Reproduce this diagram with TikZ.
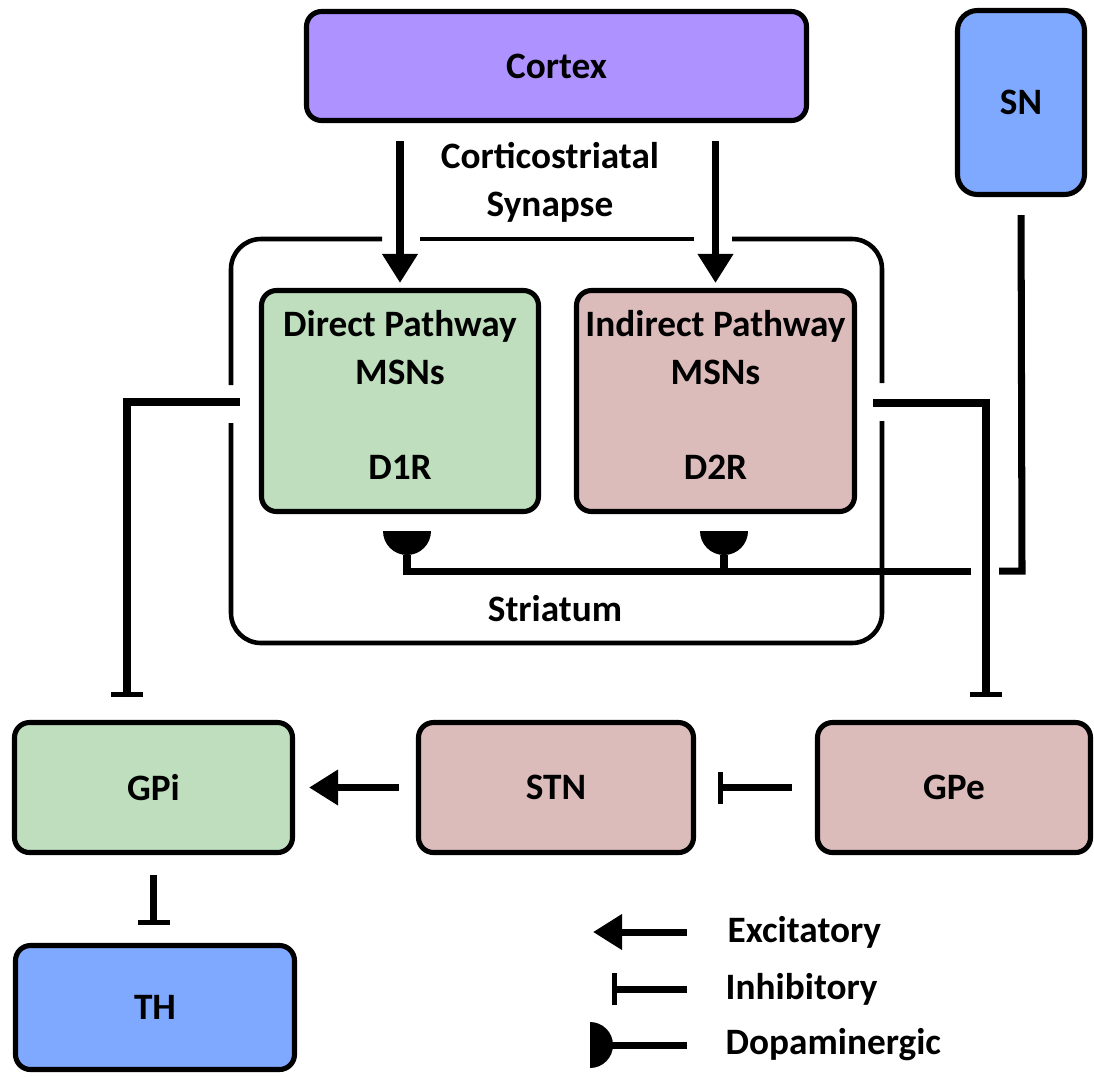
\documentclass[tikz,border=0pt]{standalone}
\usepackage{fontspec}
\setmainfont{Carlito}
\usetikzlibrary{arrows.meta}

\definecolor{cortexpurple}{HTML}{AE92FF}
\definecolor{nucleusblue}{HTML}{7FA8FF}
\definecolor{directgreen}{HTML}{BEDEBE}
\definecolor{indirectpink}{HTML}{DCBBBB}

\begin{document}
\begin{tikzpicture}[
  font=\fontsize{10.6pt}{13.6pt}\selectfont\bfseries,
  region/.style={draw=black, line width=1.45pt, rounded corners=0.15cm, inner sep=0pt, align=center},
  msnbox/.style={region, minimum height=2.21cm, text depth=0.12cm},
  wire/.style={line width=2pt},
  excite/.style={wire, -{Triangle[length=0.29cm,width=0.34cm]}},
  inhib/.style={wire, -{Bar[width=0.32cm,line width=1.5pt]}},
  strline/.style={line width=1.3pt, rounded corners=0.3cm}
]
\useasboundingbox (0,0) rectangle (10.94,-10.76);

%%%%%%%%%%%%%%%%%%%%%%%%%%%%%%%%%%%%%%%%%%%%%%%%%%%%%%%%%%%%%%%% boxes
\node[region, fill=cortexpurple, minimum width=5.0cm, minimum height=1.09cm] (cortex) at (5.565,-0.66) {Cortex};
\node[region, fill=nucleusblue, minimum width=1.27cm, minimum height=1.84cm, rounded corners=0.2cm] (sn) at (10.21,-1.025) {SN};
\node[msnbox, fill=directgreen, minimum width=2.77cm] (direct) at (4.0,-4.01) {Direct Pathway\\MSNs\\[13.6pt]D1R};
\node[msnbox, fill=indirectpink, minimum width=2.78cm] (indirect) at (7.155,-4.01) {Indirect Pathway\\MSNs\\[13.6pt]D2R};
\node[region, fill=directgreen, minimum width=2.78cm, minimum height=1.30cm] (gpi) at (1.535,-7.875) {GPi};
\node[region, fill=indirectpink, minimum width=2.75cm, minimum height=1.30cm] (stn) at (5.56,-7.875) {STN};
\node[region, fill=indirectpink, minimum width=2.73cm, minimum height=1.30cm] (gpe) at (9.54,-7.875) {GPe};
\node[region, fill=nucleusblue, minimum width=2.79cm, minimum height=1.24cm] (th) at (1.55,-10.075) {TH};

\node[align=center] (synlabel) at (5.50,-1.82) {Corticostriatal\\Synapse};
\node (strlabel) at (5.55,-6.09) {Striatum};

%striatum outline, left open where lines cross
\draw[strline] (3.82,-2.39) -- (2.31,-2.39) -- (2.31,-3.85);
\draw[strline] (2.31,-4.23) -- (2.31,-6.43) -- (8.82,-6.43) -- (8.82,-4.21);
\draw[strline] (8.82,-3.83) -- (8.82,-2.39) -- (7.32,-2.39);
\draw[strline] (6.94,-2.39) -- (4.20,-2.39);

%%%%%%%%%%%%%%%%%%%%%%%%%%%%%%%%%%%%%%%%%%%%%%%%%%%%%%%%%%%%%%%% connections
\draw[excite, shorten <=0.18cm, shorten >=0.05cm] (cortex.south -| direct.north) -- (direct.north);
\draw[excite, shorten <=0.18cm, shorten >=0.05cm] (cortex.south -| indirect.north) -- (indirect.north);

\coordinate (dbend) at (1.27,-4.02);
\draw[inhib, shorten <=0.19cm, shorten >=0.23cm] (direct.west |- dbend) -- (dbend) -- (dbend |- gpi.north);
\coordinate (ibend) at (9.86,-4.03);
\draw[inhib, shorten <=0.16cm, shorten >=0.23cm] (indirect.east |- ibend) -- (ibend) -- (ibend |- gpe.north);

\draw[excite, shorten <=0.17cm, shorten >=0.14cm] (stn.west) -- (gpi.east);
\draw[inhib, shorten <=0.23cm, shorten >=0.22cm] (gpe.west) -- (stn.east);
\draw[inhib, shorten <=0.20cm, shorten >=0.18cm] (gpi.south) -- (gpi.south |- th.north);

%dopamine from SN, with a jump over the GPe line
\coordinate (snbend) at (10.22,-5.71);
\coordinate (gapR) at (9.99,-5.71);
\coordinate (gapL) at (9.71,-5.71);
\coordinate (cupD) at (4.07,-5.55);
\coordinate (cupI) at (7.24,-5.55);
\draw[wire, shorten <=0.18cm] (sn.south) -- (snbend) -- (gapR);
\draw[wire] (gapL) -- (cupD |- gapL) -- (cupD);
\draw[wire] (cupI |- gapL) -- (cupI);
\fill (cupD) ++(-0.24,0.24) arc[start angle=180, end angle=360, radius=0.24] -- cycle;
\fill (cupI) ++(-0.24,0.24) arc[start angle=180, end angle=360, radius=0.24] -- cycle;

%%%%%%%%%%%%%%%%%%%%%%%%%%%%%%%%%%%%%%%%%%%%%%%%%%%%%%%%%%%%%%%% legend
\node[anchor=west, inner sep=0pt] (exclabel) at (7.27,-9.32) {Excitatory};
\node[anchor=west, inner sep=0pt] (inhlabel) at (7.25,-9.89) {Inhibitory};
\node[anchor=west, inner sep=0pt] (dalabel) at (7.25,-10.45) {Dopaminergic};
\coordinate (excR) at (6.87,-9.32);
\coordinate (excL) at (5.93,-9.32);
\draw[excite] (excR) -- (excL);
\coordinate (inhR) at (6.87,-9.89);
\coordinate (inhL) at (6.12,-9.89);
\draw[inhib] (inhR) -- (inhL);
\coordinate (daR) at (6.87,-10.45);
\coordinate (daL) at (5.90,-10.45);
\draw[wire] (daR) -- (daL);
\fill (daL) ++(0,0.23) arc[start angle=90, end angle=-90, radius=0.23] -- cycle;
\end{tikzpicture}
\end{document}
